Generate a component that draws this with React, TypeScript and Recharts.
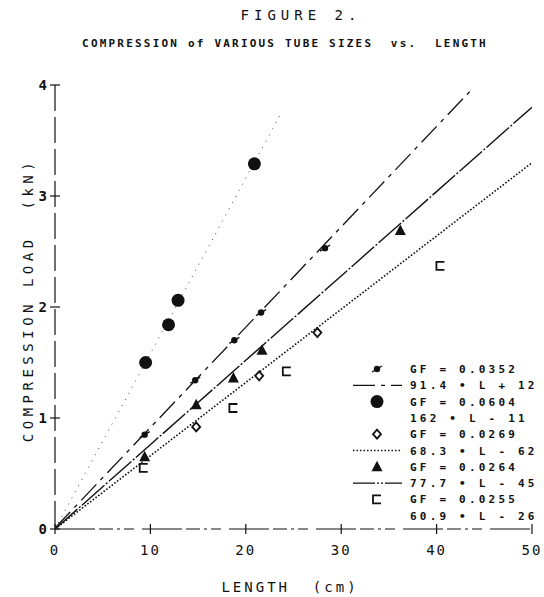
import React from 'react';
import { ComposedChart, Line, Scatter, XAxis, YAxis } from 'recharts';

const xTicks = [0, 10, 20, 30, 40, 50];
const yTicks = [0, 1, 2, 3, 4];

// measured points, length (cm) vs load (kN)
const gf0352 = [
  { x: 9.4, y: 0.85 },
  { x: 14.7, y: 1.34 },
  { x: 18.8, y: 1.7 },
  { x: 21.6, y: 1.95 },
  { x: 28.3, y: 2.53 },
];
const gf0604 = [
  { x: 9.5, y: 1.5 },
  { x: 11.9, y: 1.84 },
  { x: 12.9, y: 2.06 },
  { x: 20.9, y: 3.29 },
];
const gf0269 = [
  { x: 14.8, y: 0.92 },
  { x: 21.4, y: 1.38 },
  { x: 27.5, y: 1.77 },
];
const gf0264 = [
  { x: 9.4, y: 0.65 },
  { x: 14.8, y: 1.12 },
  { x: 18.7, y: 1.36 },
  { x: 21.7, y: 1.61 },
  { x: 36.2, y: 2.69 },
];
const gf0255 = [
  { x: 9.3, y: 0.55 },
  { x: 18.7, y: 1.09 },
  { x: 24.3, y: 1.42 },
  { x: 40.4, y: 2.37 },
];

// fitted lines, end points as drawn
const fit0352 = [{ x: 0, y: 0.01 }, { x: 43.8, y: 3.97 }];
const fit0604 = [{ x: 0, y: 0 }, { x: 23.6, y: 3.73 }];
const fit0269 = [{ x: 0, y: 0 }, { x: 50, y: 3.3 }];
const fit0264 = [{ x: 0, y: 0 }, { x: 50, y: 3.8 }];

const legendRows = [
  'GF = 0.0352',
  '91.4 • L + 12',
  'GF = 0.0604',
  '162 • L - 11',
  'GF = 0.0269',
  '68.3 • L - 62',
  'GF = 0.0264',
  '77.7 • L - 45',
  'GF = 0.0255',
  '60.9 • L - 26',
];

const mono = 'DejaVu Sans Mono, monospace';
const ink = '#111';

const Star = ({ cx, cy }: any) => (
  <g>
    <circle cx={cx} cy={cy} r={3.2} fill={ink} />
    <line x1={cx - 5} y1={cy + 3} x2={cx + 5} y2={cy - 3} stroke={ink} strokeWidth={1.4} />
  </g>
);
const Dot = ({ cx, cy }: any) => <circle cx={cx} cy={cy} r={6.5} fill={ink} />;
const Diamond = ({ cx, cy }: any) => (
  <path d={`M${cx},${cy - 4.5}L${cx + 4},${cy}L${cx},${cy + 4.5}L${cx - 4},${cy}Z`} fill="#fff" stroke={ink} strokeWidth={1.8} />
);
const Tri = ({ cx, cy }: any) => (
  <path d={`M${cx},${cy - 6}L${cx + 5.5},${cy + 4.5}L${cx - 5.5},${cy + 4.5}Z`} fill={ink} />
);
const Box = ({ cx, cy }: any) => (
  <path d={`M${cx + 4},${cy - 4}H${cx - 4}V${cy + 4}H${cx + 4}`} fill="none" stroke={ink} strokeWidth={1.8} />
);

const XTick = ({ x, y, payload }: any) => (
  <g>
    <line x1={x} y1={y - 5} x2={x} y2={y + 5} stroke={ink} strokeWidth={1.2} />
    <text x={x} y={y + 26} textAnchor="middle" fontFamily={mono} fontSize={14} letterSpacing={2} fill={ink}>
      {payload.value}
    </text>
  </g>
);
const YTick = ({ x, y, payload }: any) => (
  <g>
    <line x1={x - 5} y1={y} x2={x + 5} y2={y} stroke={ink} strokeWidth={1.2} />
    <text x={x - 8} y={y + 5} textAnchor="end" fontFamily={mono} fontSize={14} fontWeight="bold" fill={ink}>
      {payload.value}
    </text>
  </g>
);

function Overlay() {
  const lx = 410;
  const top = 369;
  const step = 16.3;
  const mk = 377;
  return (
    <svg width={544} height={597} style={{ position: 'absolute', left: 0, top: 0, pointerEvents: 'none' }}>
      <text x={301} y={20} textAnchor="middle" fontFamily={mono} fontSize={14} letterSpacing={5} fill={ink}>
        FIGURE 2.
      </text>
      <text x={285} y={47} textAnchor="middle" fontFamily={mono} fontSize={11} fontWeight="bold" letterSpacing={2.2} fill={ink} style={{ whiteSpace: 'pre' }}>
        {'COMPRESSION of VARIOUS TUBE SIZES  vs.  LENGTH'}
      </text>
      <text x={290} y={592} textAnchor="middle" fontFamily={mono} fontSize={14} letterSpacing={3} fill={ink} style={{ whiteSpace: 'pre' }}>
        {'LENGTH  (cm)'}
      </text>
      <text
        x={0}
        y={0}
        transform="translate(33,300) rotate(-90)"
        textAnchor="middle"
        fontFamily={mono}
        fontSize={14}
        letterSpacing={4.5}
        fill={ink}
        style={{ whiteSpace: 'pre' }}
      >
        {'COMPRESSION LOAD  (kN)'}
      </text>
      {legendRows.map((t, i) => (
        <text key={t} x={lx} y={top + i * step + 4} fontFamily={mono} fontSize={11} fontWeight="bold" letterSpacing={3.2} fill={ink}>
          {t}
        </text>
      ))}
      <Star cx={mk} cy={top} />
      <line x1={353} y1={top + step} x2={402} y2={top + step} stroke={ink} strokeWidth={1.3} strokeDasharray="22 6 4 6 12" />
      <Dot cx={mk} cy={top + 2 * step} />
      <Diamond cx={mk} cy={top + 4 * step} />
      <line x1={353} y1={top + 5 * step} x2={402} y2={top + 5 * step} stroke={ink} strokeWidth={1.3} strokeDasharray="1.5 2" />
      <Tri cx={mk} cy={top + 6 * step} />
      <line x1={353} y1={top + 7 * step} x2={402} y2={top + 7 * step} stroke={ink} strokeWidth={1.3} strokeDasharray="22 2 2 2 2 2" />
      <Box cx={mk} cy={top + 8 * step} />
    </svg>
  );
}

export default function App() {
  return (
    <div style={{ position: 'absolute', left: 0, top: 0, width: 544, height: 597, background: '#fff' }}>
      <ComposedChart width={544} height={597} margin={{ top: 85, right: 12, bottom: 0, left: 0 }}>
        <XAxis
          type="number"
          dataKey="x"
          domain={[0, 50]}
          ticks={xTicks}
          height={68}
          tickSize={0}
          tickMargin={0}
          tick={<XTick />}
          axisLine={{ stroke: ink, strokeWidth: 1.2, strokeDasharray: '40 4 14 4 3 4 10 8' }}
          allowDataOverflow
        />
        <YAxis
          type="number"
          dataKey="y"
          domain={[0, 4]}
          ticks={yTicks}
          width={55}
          tickSize={0}
          tickMargin={0}
          tick={<YTick />}
          axisLine={{ stroke: ink, strokeWidth: 1.2, strokeDasharray: '26 6' }}
          allowDataOverflow
        />
        <Line data={fit0604} dataKey="y" type="linear" stroke="#444" strokeWidth={1} strokeDasharray="1 6" dot={false} activeDot={false} isAnimationActive={false} />
        <Line data={fit0352} dataKey="y" type="linear" stroke={ink} strokeWidth={1.3} strokeDasharray="22 6 4 6" dot={false} activeDot={false} isAnimationActive={false} />
        <Line data={fit0264} dataKey="y" type="linear" stroke={ink} strokeWidth={1.4} strokeDasharray="30 2 2 2" dot={false} activeDot={false} isAnimationActive={false} />
        <Line data={fit0269} dataKey="y" type="linear" stroke={ink} strokeWidth={1.6} strokeDasharray="1.6 1.8" dot={false} activeDot={false} isAnimationActive={false} />
        <Scatter data={gf0352} dataKey="y" shape={<Star />} isAnimationActive={false} />
        <Scatter data={gf0604} dataKey="y" shape={<Dot />} isAnimationActive={false} />
        <Scatter data={gf0269} dataKey="y" shape={<Diamond />} isAnimationActive={false} />
        <Scatter data={gf0264} dataKey="y" shape={<Tri />} isAnimationActive={false} />
        <Scatter data={gf0255} dataKey="y" shape={<Box />} isAnimationActive={false} />
      </ComposedChart>
      <Overlay />
    </div>
  );
}
